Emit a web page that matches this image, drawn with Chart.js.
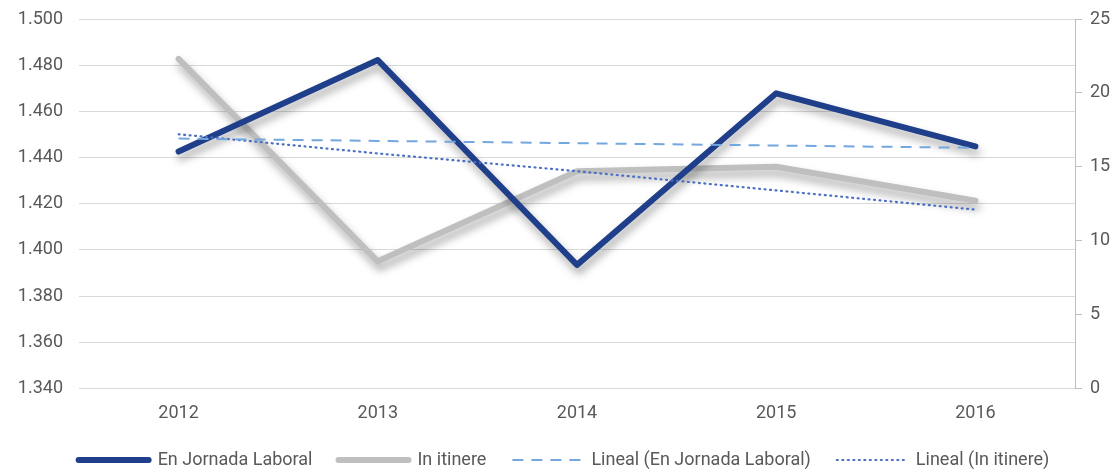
<!DOCTYPE html>
<html>
<head>
<meta charset="utf-8">
<script src="https://cdn.jsdelivr.net/npm/chart.js@4/dist/chart.umd.min.js"></script>
<style>
  html, body { margin: 0; padding: 0; background: #fff; }
  #wrap { width: 1118px; height: 469px; }
</style>
</head>
<body>
<div id="wrap"><canvas id="chart"></canvas></div>
<script>
// datos
const years = ['2012', '2013', '2014', '2015', '2016'];
const jornada = [1442.6, 1482.2, 1393.5, 1467.8, 1444.8];
const itinere = [22.3, 8.6, 14.7, 15.0, 12.7];
// lineas de tendencia
const tendJornada = [1448.2, 1447.2, 1446.2, 1445.2, 1444.2];
const tendItinere = [17.2, 15.9, 14.7, 13.4, 12.1];

const FONT = 'Roboto, "DejaVu Sans", sans-serif';
const TXT = '#595959';

// formato 1.340
function fmtMiles(v) {
  return String(v).replace(/\B(?=(\d{3})+(?!\d))/g, '.');
}

// sombra para las series principales
const shadowPlugin = {
  id: 'sombra',
  beforeDatasetDraw(chart, args) {
    const ds = chart.data.datasets[args.index];
    if (!ds.sombra) return;
    const ctx = chart.ctx;
    ctx.save();
    ctx.shadowColor = 'rgba(0,0,0,0.35)';
    ctx.shadowBlur = 8;
    ctx.shadowOffsetX = 2;
    ctx.shadowOffsetY = 6;
  },
  afterDatasetDraw(chart, args) {
    const ds = chart.data.datasets[args.index];
    if (!ds.sombra) return;
    chart.ctx.restore();
  }
};

new Chart(document.getElementById('chart'), {
  type: 'line',
  data: {
    labels: years,
    datasets: [
      {
        label: 'En Jornada Laboral',
        data: jornada,
        yAxisID: 'y',
        borderColor: '#1f3f8a',
        borderWidth: 6,
        borderCapStyle: 'round',
        borderJoinStyle: 'round',
        pointRadius: 0,
        sombra: true,
        order: 3
      },
      {
        label: 'In itinere',
        data: itinere,
        yAxisID: 'y1',
        borderColor: '#bfbfbf',
        borderWidth: 6,
        borderCapStyle: 'round',
        borderJoinStyle: 'round',
        pointRadius: 0,
        sombra: true,
        order: 4
      },
      {
        label: 'Lineal (En Jornada Laboral)',
        data: tendJornada,
        yAxisID: 'y',
        borderColor: '#74a7de',
        borderWidth: 2,
        borderDash: [11, 8],
        pointRadius: 0,
        order: 1
      },
      {
        label: 'Lineal (In itinere)',
        data: tendItinere,
        yAxisID: 'y1',
        borderColor: '#4a6fc0',
        borderWidth: 2.2,
        borderDash: [1, 4.5],
        borderCapStyle: 'round',
        pointRadius: 0,
        order: 2
      }
    ]
  },
  options: {
    responsive: true,
    maintainAspectRatio: false,
    animation: false,
    layout: { padding: { top: 19, bottom: -10, left: 10, right: 0 } },
    plugins: {
      tooltip: { enabled: false },
      legend: {
        position: 'bottom',
        labels: {
          color: TXT,
          font: { family: FONT, size: 18 },
          usePointStyle: true,
          pointStyleWidth: 70,
          boxHeight: 18,
          padding: 26,
          generateLabels(chart) {
            return chart.data.datasets.map((ds, i) => ({
              text: ds.label,
              datasetIndex: i,
              pointStyle: 'line',
              strokeStyle: ds.borderColor,
              fillStyle: ds.borderColor,
              lineWidth: ds.borderWidth,
              lineDash: ds.borderDash || [],
              lineCap: ds.borderCapStyle || 'butt',
              fontColor: TXT,
              hidden: false
            }));
          }
        }
      }
    },
    scales: {
      x: {
        offset: true,
        grid: { display: false },
        border: { display: false },
        ticks: { color: TXT, font: { family: FONT, size: 18 }, padding: 6 },
        afterFit(scale) { scale.height = scale.height - 5; }
      },
      y: {
        position: 'left',
        min: 1340,
        max: 1500,
        ticks: {
          stepSize: 20,
          color: TXT,
          font: { family: FONT, size: 18 },
          padding: 16,
          callback: v => fmtMiles(v)
        },
        grid: { color: '#d9d9d9', lineWidth: 1, drawTicks: false },
        border: { display: false },
        afterFit(scale) { scale.width = 69; scale.paddingTop = 0; scale.paddingBottom = 0; }
      },
      y1: {
        position: 'right',
        min: 0,
        max: 25,
        ticks: {
          stepSize: 5,
          color: TXT,
          font: { family: FONT, size: 18 },
          padding: 8
        },
        grid: { drawOnChartArea: false, color: '#bfbfbf', tickLength: 7 },
        border: { display: true, color: '#bfbfbf', width: 1 },
        afterFit(scale) { scale.width = 43; scale.paddingTop = 0; scale.paddingBottom = 0; }
      }
    }
  },
  plugins: [shadowPlugin]
});
</script>
</body>
</html>
